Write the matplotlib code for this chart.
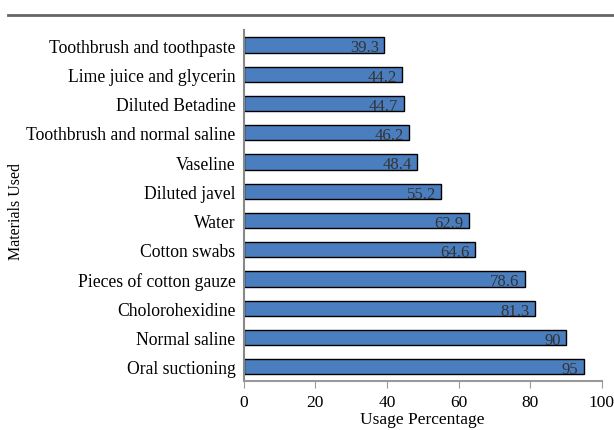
import matplotlib.pyplot as plt
import matplotlib.lines as mlines

plt.rcParams['font.family'] = ['Liberation Serif', 'DejaVu Serif']

# data, listed top to bottom as in the chart
materials = ['Toothbrush and toothpaste', 'Lime juice and glycerin', 'Diluted Betadine',
             'Toothbrush and normal saline', 'Vaseline', 'Diluted javel', 'Water',
             'Cotton swabs', 'Pieces of cotton gauze', 'Cholorohexidine',
             'Normal saline', 'Oral suctioning']
usage = [39.3, 44.2, 44.7, 46.2, 48.4, 55.2, 62.9, 64.6, 78.6, 81.3, 90, 95]
value_labels = ['39.3', '44.2', '44.7', '46.2', '48.4', '55.2', '62.9', '64.6',
                '78.6', '81.3', '90', '95']
xticks = [0, 20, 40, 60, 80, 100]

fig = plt.figure(figsize=(6.14, 4.31), dpi=100)
ax = fig.add_axes([0.397, 0.113, 0.583, 0.814])

pos = list(range(len(materials)))
bars = ax.barh(pos, usage, height=0.52, color='#4a7ebf', edgecolor='black', linewidth=1)
ax.set_ylim(len(materials) - 0.5, -0.5)
ax.set_xlim(0, 100)

for b, lab in zip(bars, value_labels):
    ax.text(b.get_width() - 1.5, b.get_y() + b.get_height() / 2 + 0.08, lab,
            ha='right', va='center', fontsize=12, color='#333333')

ax.set_yticks(pos)
ax.set_yticklabels(materials, fontsize=12.7)
ax.tick_params(axis='y', length=0, pad=6)
ax.set_xticks(xticks)
ax.tick_params(axis='x', labelsize=12.5, length=5, color='#999999', pad=4)

for s in ['top', 'right']:
    ax.spines[s].set_visible(False)
ax.spines['left'].set_color('#888888')
ax.spines['left'].set_linewidth(1.5)
ax.spines['bottom'].set_color('#999999')
ax.spines['bottom'].set_linewidth(1.5)

ax.set_xlabel('Usage Percentage', fontsize=12.5, labelpad=1)
fig.text(0.026, 0.51, 'Materials Used', rotation=90, ha='center', va='center', fontsize=11.5)

# horizontal rule at the top of the figure
fig.add_artist(mlines.Line2D([0.013, 1.0], [0.963, 0.963], color='#666666', linewidth=2))

fig.savefig('out.png', dpi=100)
